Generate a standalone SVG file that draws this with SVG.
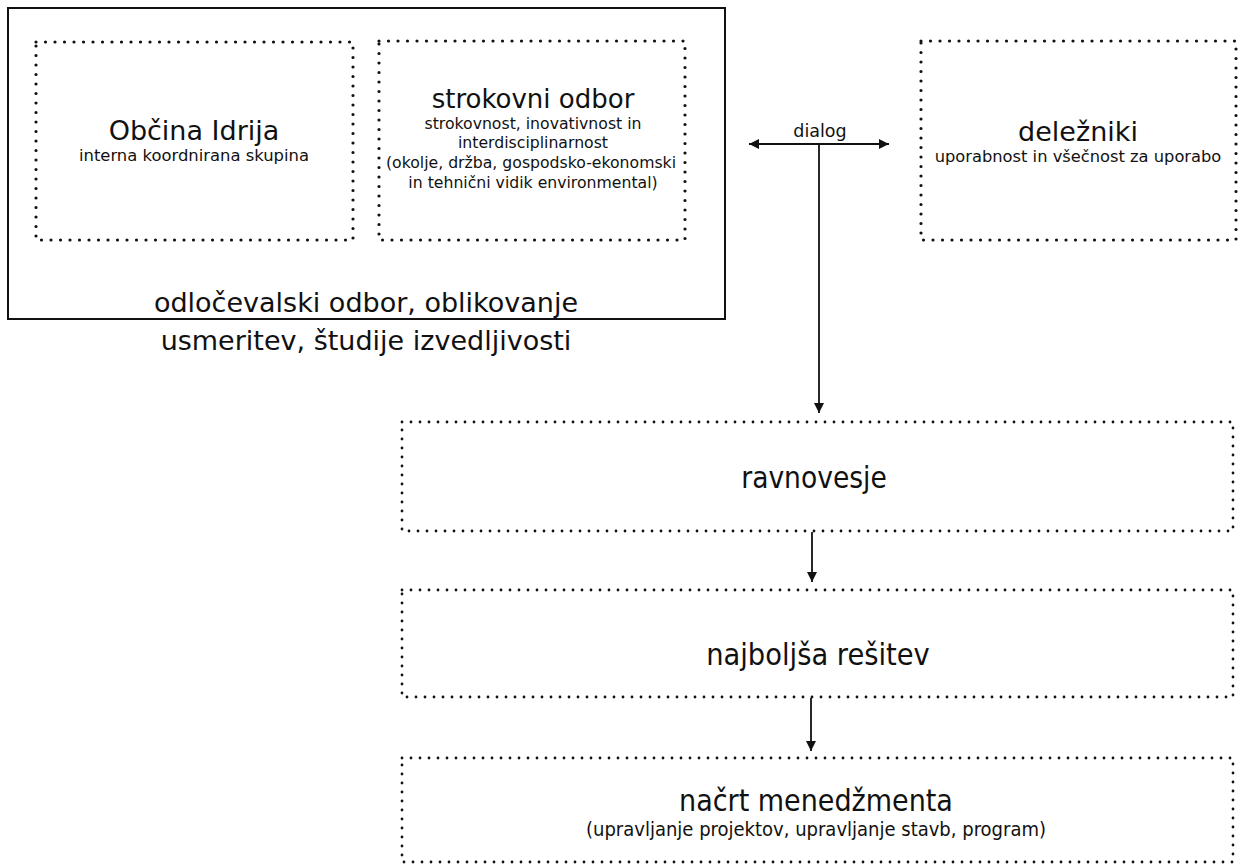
<svg xmlns="http://www.w3.org/2000/svg" width="1238" height="866" viewBox="0 0 1238 866">
<defs>
<style>
.dot{fill:none;stroke:#111;stroke-width:3.2;stroke-linecap:round;stroke-dasharray:0 9.5}
.dot2{fill:none;stroke:#111;stroke-width:2.8;stroke-linecap:round;stroke-dasharray:0 9}
.t{font-family:"DejaVu Sans",sans-serif;fill:#111;text-anchor:middle}
.c{font-family:"DejaVu Sans Condensed","DejaVu Sans",sans-serif;fill:#111;text-anchor:middle}
.ln{stroke:#111;stroke-width:1.8;fill:none}
</style>
<marker id="ah" viewBox="0 0 10 10" refX="10" refY="5" markerWidth="10" markerHeight="10" markerUnits="userSpaceOnUse" orient="auto-start-reverse">
<path d="M0,0 L10,5 L0,10 Z" fill="#111"/>
</marker>
</defs>
<rect width="1238" height="866" fill="#fff"/>
<g id="odlocevalski">
<rect x="8" y="8" width="717" height="311" fill="none" stroke="#111" stroke-width="2"/>
<text class="t" x="366" y="312" font-size="27">odločevalski odbor, oblikovanje</text>
<text class="t" x="366" y="350" font-size="27">usmeritev, študije izvedljivosti</text>
</g>
<g id="obcina">
<rect class="dot" x="36" y="42" width="317" height="198"/>
<text class="t" x="194" y="140" font-size="27">Občina Idrija</text>
<text class="t" x="194" y="161" font-size="16.4">interna koordnirana skupina</text>
</g>
<g id="strokovni">
<rect class="dot" x="379" y="41" width="306" height="199"/>
<text class="t" x="533" y="108" font-size="26">strokovni odbor</text>
<text class="t" x="533" y="129" font-size="15.7">strokovnost, inovativnost in</text>
<text class="t" x="533" y="148" font-size="15.7">interdisciplinarnost</text>
<text class="t" x="531" y="168" font-size="15.7">(okolje, držba, gospodsko-ekonomski</text>
<text class="t" x="533" y="188" font-size="15.7">in tehnični vidik environmental)</text>
</g>
<g id="delezniki">
<rect class="dot" x="921" y="41" width="315" height="199"/>
<text class="t" x="1078" y="141" font-size="27">deležniki</text>
<text class="t" x="1078" y="162" font-size="16.3">uporabnost in všečnost za uporabo</text>
</g>
<g id="ravnovesje">
<rect class="dot2" x="402" y="422" width="831" height="109"/>
<text class="c" x="814" y="488" font-size="29.5">ravnovesje</text>
</g>
<g id="najboljsa">
<rect class="dot2" x="402" y="590" width="831" height="107"/>
<text class="c" x="818" y="665" font-size="30.4">najboljša rešitev</text>
</g>
<g id="nacrt">
<rect class="dot2" x="402" y="758" width="831" height="104"/>
<text class="c" x="816" y="811" font-size="30">načrt menedžmenta</text>
<text class="c" x="816" y="836" font-size="20">(upravljanje projektov, upravljanje stavb, program)</text>
</g>
<g id="connectors">
<line class="ln" x1="749" y1="144" x2="889" y2="144" marker-start="url(#ah)" marker-end="url(#ah)"/>
<text class="t" x="820" y="137" font-size="17.5">dialog</text>
<line class="ln" x1="819" y1="144" x2="819" y2="413" marker-end="url(#ah)"/>
<line class="ln" x1="812" y1="532" x2="812" y2="582" marker-end="url(#ah)"/>
<line class="ln" x1="811" y1="698" x2="811" y2="751" marker-end="url(#ah)"/>
</g>
</svg>
